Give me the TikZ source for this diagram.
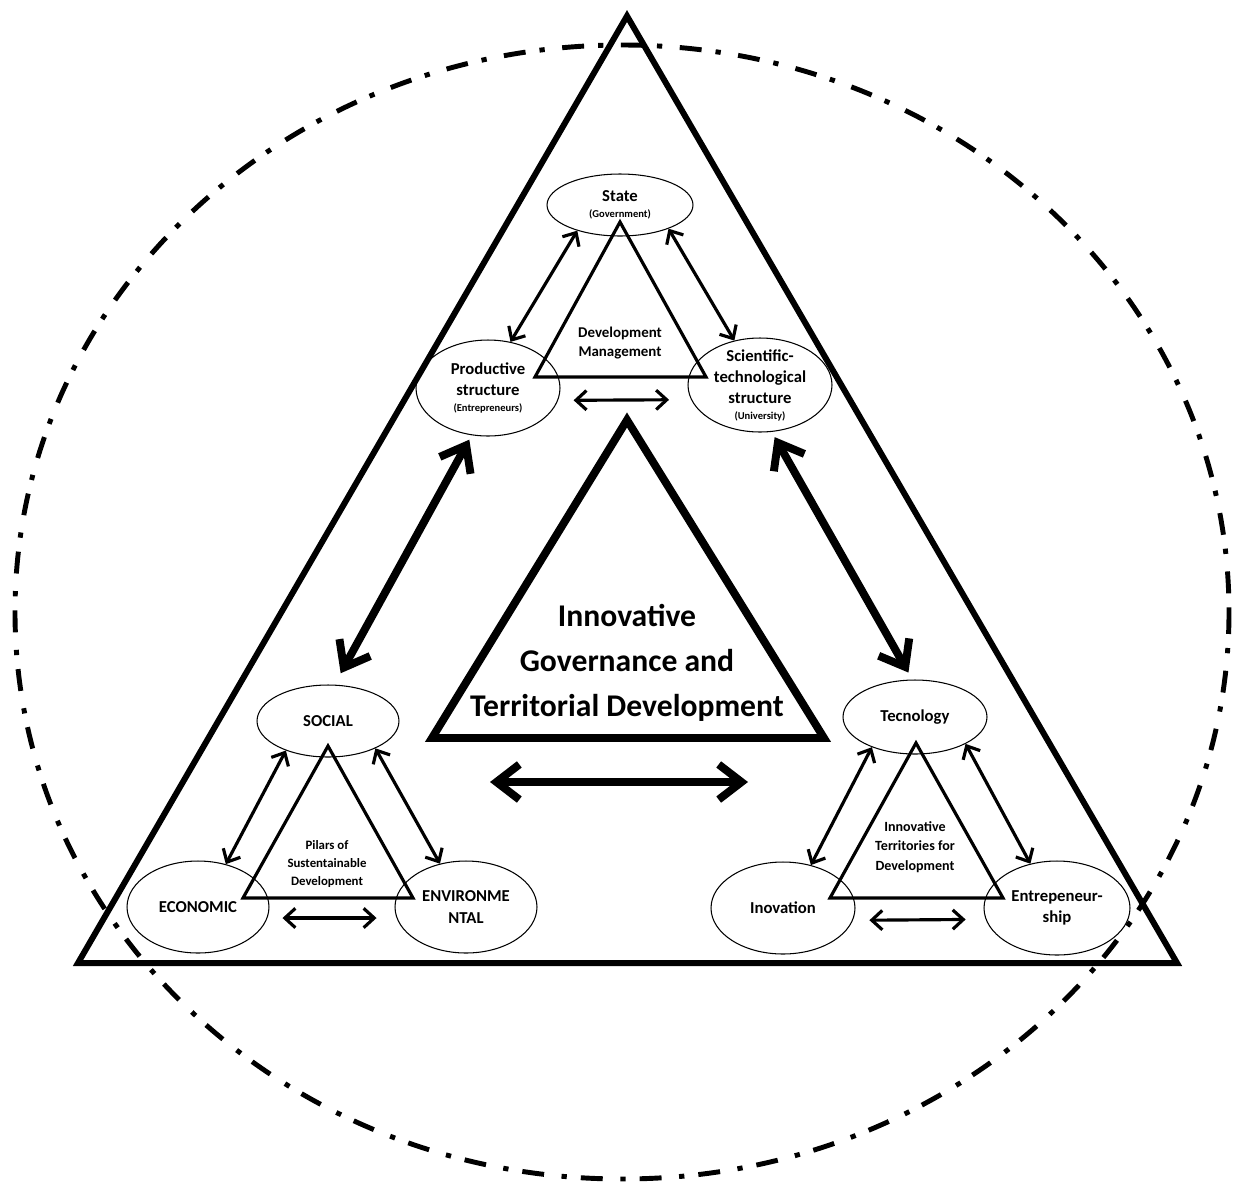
\documentclass[tikz,border=0pt]{standalone}
\usepackage{fontspec}
\setmainfont{Carlito}
\usetikzlibrary{arrows.meta,shapes.geometric,calc,positioning}

\tikzset{
	pilar/.style={ellipse, draw, line width=0.6pt, inner sep=0pt},
	txt/.style={align=center, font=\bfseries\fontsize{9.5}{12}\selectfont},
	small/.style={align=center, font=\bfseries\fontsize{8}{11}\selectfont},
	tri/.style={line width=1.8pt},
	arr/.style={line width=1.8pt, {Straight Barb[length=6pt,width=11pt]}-{Straight Barb[length=6pt,width=11pt]}},
	bigarr/.style={line width=4.5pt, line cap=round, {Straight Barb[length=13pt,width=20pt]}-{Straight Barb[length=13pt,width=20pt]}},
	frontier/.style={line width=2.8pt, dash pattern=on 12.5pt off 8pt on 3pt off 10pt},
}

\begin{document}
\begin{tikzpicture}[x=0.02cm, y=-0.02cm]
	\useasboundingbox (0,0) rectangle (1234,1191);
				\draw[line width=3.4pt] (627,16) to (78,963) to (1177,963) to cycle;
				\draw[frontier] (622,612) ellipse [x radius=607, y radius=567];

				\node[pilar, minimum width=2.92cm, minimum height=1.24cm, label={[txt]center:State\\[-3pt]{\fontsize{6}{8}\selectfont(Government)}}] (state) at (620,205) {};
				\node[pilar, minimum width=2.88cm, minimum height=1.92cm, label={[txt]center:Productive\\structure\\[-3pt]{\fontsize{6}{8}\selectfont(Entrepreneurs)}}] (prod) at (488,388) {};
				\node[pilar, minimum width=2.88cm, minimum height=1.88cm, label={[txt]center:Scientific-\\technological\\structure\\[-3pt]{\fontsize{6}{8}\selectfont(University)}}] (sci) at (760,385) {};
				\draw[tri] (620,222) to (535,377) to (706,377) to cycle;
				\node[small, font=\bfseries\fontsize{8.5}{11.3}\selectfont] (devman) at (620,343) {Development\\Management};
				\draw[arr] (state.211) to (prod.64);
				\draw[arr] (state.334) to (sci.120);
				\draw[arr, shorten <=0.31cm, shorten >=0.44cm] (prod.350) to (sci.192);

				\draw[line width=4.5pt] (627,420) to (432,738) to (824,738) to cycle;
				\node[align=center, font=\bfseries\fontsize{18}{25.5}\selectfont] (gov) at (627,663) {Innovative\\Governance and\\Territorial Development};

				\node[pilar, minimum width=2.84cm, minimum height=1.44cm, label={[txt]center:SOCIAL}] (soc) at (328,721) {};
				\node[pilar, minimum width=2.84cm, minimum height=1.84cm, label={[txt]center:ECONOMIC}] (eco) at (198,907) {};
				\node[pilar, minimum width=2.84cm, minimum height=1.84cm, label={[txt]center:ENVIRONME\\NTAL}] (env) at (466,907) {};
				\draw[tri] (328,746) to (243,898) to (413,898) to cycle;
				\node[small, font=\bfseries\fontsize{7.3}{10}\selectfont] (pilars) at (327,864) {Pilars of\\Sustentainable\\Development};
				\draw[arr] (soc.215.6) to (eco.57.6);
				\draw[arr] (soc.330) to (env.121.3);
				\draw[arr, shorten <=0.3cm, shorten >=0.4cm] (eco.351) to (env.189);

				\node[pilar, minimum width=2.88cm, minimum height=1.48cm, label={[txt]center:Tecnology}] (tec) at (915,717) {};
				\node[pilar, minimum width=2.88cm, minimum height=1.84cm, label={[txt]center:Inovation}] (inov) at (783,908) {};
				\node[pilar, minimum width=2.92cm, minimum height=1.88cm, label={[txt]center:Entrepeneur-\\ship}] (ent) at (1057,908) {};
				\draw[tri] (916,743) to (830,898) to (1003,898) to cycle;
				\node[small] (terr) at (915,847) {Innovative\\Territories for\\Development};
				\draw[arr] (tec.215.5) to (inov.57.6);
				\draw[arr] (tec.332) to (ent.121.7);
				\draw[arr, shorten <=0.33cm, shorten >=0.4cm] (inov.350) to (ent.189.6);

				\coordinate (hl) at (490,782);
				\coordinate (hr) at (748,782);
				\draw[bigarr, shorten <=0.1cm, shorten >=0.26cm] (prod.251) to (soc.80);
				\draw[bigarr, shorten <=0.12cm, shorten >=0.16cm] (sci.284) to (tec.94);
				\draw[bigarr] (hl) to (hr);
\end{tikzpicture}
\end{document}
